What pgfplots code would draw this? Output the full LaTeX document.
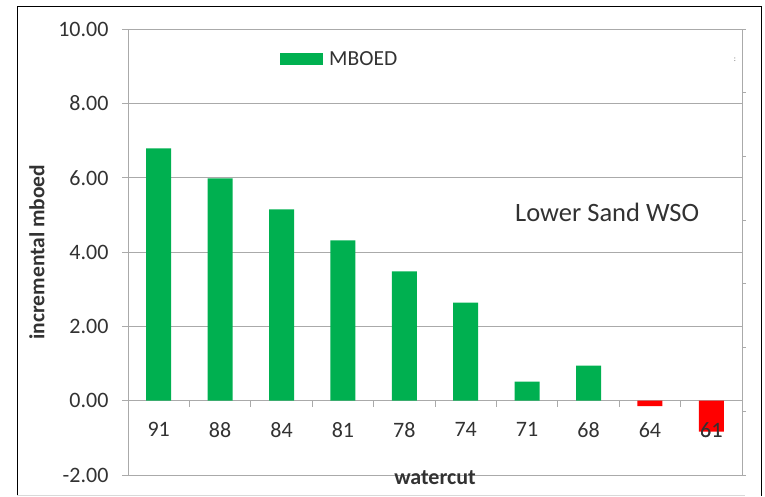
\documentclass[border=0pt]{standalone}
\usepackage{fontspec}
\setmainfont{Carlito}
\usepackage{pgfplots}
\pgfplotsset{compat=1.18}
\definecolor{barGreen}{RGB}{0,176,80}
\definecolor{barRed}{RGB}{255,0,0}
\definecolor{gridGray}{RGB}{170,170,170}
\definecolor{txt}{RGB}{50,50,50}
\begin{document}
\begin{tikzpicture}
\useasboundingbox (0pt,0pt) rectangle (765pt,496pt);
\draw[black, line width=1pt] (17pt,0pt) -- (17pt,489pt) -- (761pt,489pt) -- (761pt,0pt);
\draw[black!15, line width=0.8pt] (17pt,1pt) -- (745pt,1pt);
\begin{axis}[
  at={(128pt,21pt)}, anchor=south west,
  scale only axis, width=614pt, height=446pt,
  xmin=-0.5, xmax=9.5, ymin=-2, ymax=10,
  axis x line=middle, axis y line=left,
  axis line style={-, draw=gridGray, line width=0.8pt},
  ytick={-2,0,...,10},
  yticklabel style={xshift=-10pt, /pgf/number format/.cd, fixed, fixed zerofill, precision=2, /tikz/.cd},
  /pgf/number format/assume math mode=true,
  ymajorgrids=true,
  major grid style={draw=gridGray, line width=0.8pt},
  tick align=outside,
  major tick length=6pt,
  tick style={draw=gridGray, line width=0.8pt},
  xtick={0.5,1.5,...,8.5}, xticklabels={},
  extra x ticks={0,1,...,9},
  extra x tick labels={91,88,84,81,78,74,71,68,64,61},
  extra x tick style={major tick length=0pt, xticklabel style={yshift=-18pt}},
  tick label style={font=\fontsize{22}{24}\selectfont, text=txt},
  legend style={at={(0.2476,0.9327)}, anchor=west, draw=none, fill=none, inner sep=0pt,
    font=\fontsize{21.5}{24}\selectfont, text=txt},
  legend cell align=left,
  clip=false,
]
\addplot[ybar, bar width=25pt, bar shift=0pt, fill=barGreen, draw=none,
  legend image code/.code={\fill[barGreen] (0pt,-6pt) rectangle (43pt,6pt); \path (47pt,0pt);}]
  coordinates {(0,6.79) (1,5.98) (2,5.15) (3,4.31) (4,3.48) (5,2.64) (6,0.51) (7,0.94)};
\addlegendentry{MBOED}
\addplot[ybar, bar width=25pt, bar shift=0pt, fill=barRed, draw=none, forget plot]
  coordinates {(8,-0.15) (9,-0.83)};
\node[anchor=north, yshift=-18pt, font=\fontsize{22}{24}\selectfont, text=txt, inner sep=0.333em] at (axis cs:9,0) {61};
\end{axis}
\begin{axis}[
  at={(128pt,21pt)}, anchor=south west,
  scale only axis, width=614pt, height=446pt,
  xmin=0, xmax=1, ymin=0, ymax=7,
  axis y line=right, axis x line=none,
  axis line style={-, draw=gridGray, line width=0.8pt},
  ytick={0,...,7}, yticklabels={},
  tick align=outside, major tick length=4pt,
  tick style={draw=gridGray, line width=0.8pt},
]
\addplot[draw=none] coordinates {(0,0) (1,7)};
\end{axis}
\node[rotate=90, font=\fontsize{21.5}{24}\selectfont\bfseries, text=txt] at (37pt,244pt) {incremental mboed};
\node[font=\fontsize{22}{24}\selectfont\bfseries, text=txt] at (435pt,18pt) {watercut};
\node[anchor=base west, font=\fontsize{26.5}{30}\selectfont, text=txt, inner sep=0pt] at (515pt,274pt) {Lower Sand WSO};
\node[font=\fontsize{8}{9}\selectfont, text=black!60] at (735pt,436pt) {:};
\end{tikzpicture}
\end{document}
